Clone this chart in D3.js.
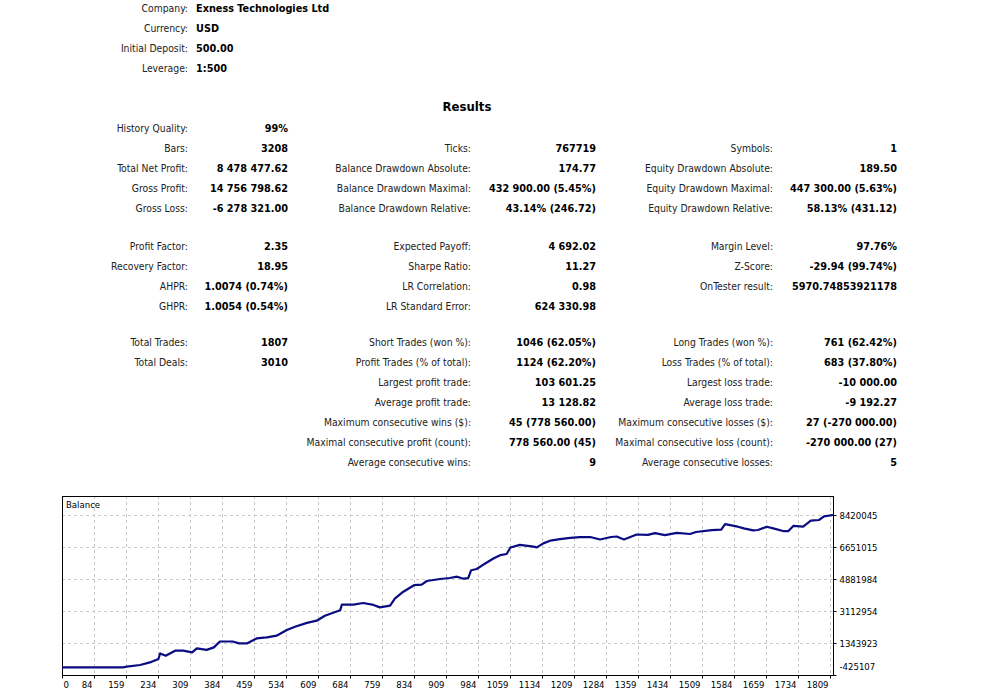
<!DOCTYPE html>
<html>
<head>
<meta charset="utf-8">
<script src="https://cdn.jsdelivr.net/npm/d3@7"></script>
<style>
  body { margin: 0; background: #fff; }
  svg { display: block; }
  .lbl { font-family: "DejaVu Sans Condensed", "Liberation Sans", sans-serif; font-stretch: condensed; font-size: 10.3px; fill: #222; }
  .val { font-family: "DejaVu Sans Condensed", "Liberation Sans", sans-serif; font-stretch: condensed; font-size: 10.8px; font-weight: bold; fill: #000; }
  .axis text { font-family: "DejaVu Sans Condensed", "Liberation Sans", sans-serif; font-stretch: condensed; font-size: 9.5px; fill: #000; }
</style>
</head>
<body>
<div id="chart"></div>
<script>
// header block
let headerLabels = ["Company:", "Currency:", "Initial Deposit:", "Leverage:"]
let headerValues = ["Exness Technologies Ltd", "USD", "500.00", "1:500"]

// results table, one entry per row slot (null = empty)
let col1 = [
  ["History Quality:", "99%"], ["Bars:", "3208"], ["Total Net Profit:", "8 478 477.62"],
  ["Gross Profit:", "14 756 798.62"], ["Gross Loss:", "-6 278 321.00"],
  ["Profit Factor:", "2.35"], ["Recovery Factor:", "18.95"], ["AHPR:", "1.0074 (0.74%)"], ["GHPR:", "1.0054 (0.54%)"],
  ["Total Trades:", "1807"], ["Total Deals:", "3010"], null, null, null, null, null
]
let col2 = [
  null, ["Ticks:", "767719"], ["Balance Drawdown Absolute:", "174.77"],
  ["Balance Drawdown Maximal:", "432 900.00 (5.45%)"], ["Balance Drawdown Relative:", "43.14% (246.72)"],
  ["Expected Payoff:", "4 692.02"], ["Sharpe Ratio:", "11.27"], ["LR Correlation:", "0.98"], ["LR Standard Error:", "624 330.98"],
  ["Short Trades (won %):", "1046 (62.05%)"], ["Profit Trades (% of total):", "1124 (62.20%)"],
  ["Largest profit trade:", "103 601.25"], ["Average profit trade:", "13 128.82"],
  ["Maximum consecutive wins ($):", "45 (778 560.00)"], ["Maximal consecutive profit (count):", "778 560.00 (45)"],
  ["Average consecutive wins:", "9"]
]
let col3 = [
  null, ["Symbols:", "1"], ["Equity Drawdown Absolute:", "189.50"],
  ["Equity Drawdown Maximal:", "447 300.00 (5.63%)"], ["Equity Drawdown Relative:", "58.13% (431.12)"],
  ["Margin Level:", "97.76%"], ["Z-Score:", "-29.94 (99.74%)"], ["OnTester result:", "5970.74853921178"], null,
  ["Long Trades (won %):", "761 (62.42%)"], ["Loss Trades (% of total):", "683 (37.80%)"],
  ["Largest loss trade:", "-10 000.00"], ["Average loss trade:", "-9 192.27"],
  ["Maximum consecutive losses ($):", "27 (-270 000.00)"], ["Maximal consecutive loss (count):", "-270 000.00 (27)"],
  ["Average consecutive losses:", "5"]
]

// balance curve
let tradeNo = [0, 152, 161, 192, 215, 235, 239, 252, 274, 293, 314, 325, 348, 365, 379, 409, 424, 442, 465, 489,
  512, 536, 555, 583, 606, 625, 661, 665, 692, 715, 739, 754, 778, 789, 809, 834, 852, 864, 895, 918,
  935, 950, 961, 968, 981, 1000, 1021, 1036, 1051, 1060, 1082, 1114, 1122, 1137, 1153, 1176, 1200, 1223, 1247, 1270,
  1296, 1309, 1326, 1356, 1382, 1399, 1422, 1450, 1481, 1495, 1532, 1554, 1563, 1593, 1607, 1629, 1640, 1661, 1676, 1701,
  1711, 1723, 1746, 1764, 1783, 1795, 1816]
let balance = [500, 500, 34000, 128000, 271000, 459000, 769000, 642000, 918000, 918000, 824000, 1045000, 962000, 1101000, 1427000, 1427000, 1322000, 1322000, 1598000, 1653000,
  1747000, 2063000, 2245000, 2455000, 2577000, 2853000, 3157000, 3461000, 3461000, 3555000, 3450000, 3312000, 3406000, 3793000, 4180000, 4539000, 4567000, 4771000, 4882000, 4937000,
  5009000, 4899000, 4926000, 5368000, 5435000, 5728000, 6032000, 6198000, 6264000, 6623000, 6767000, 6668000, 6629000, 6850000, 6999000, 7082000, 7154000, 7193000, 7204000, 7066000,
  7204000, 7231000, 7066000, 7342000, 7320000, 7414000, 7303000, 7430000, 7370000, 7480000, 7580000, 7607000, 7911000, 7773000, 7679000, 7569000, 7591000, 7773000, 7679000, 7524000,
  7524000, 7817000, 7773000, 8105000, 8144000, 8343000, 8420000]

let xTicks = [0, 84, 159, 234, 309, 384, 459, 534, 609, 684, 759, 834, 909, 984, 1059, 1134, 1209, 1284, 1359, 1434, 1509, 1584, 1659, 1734, 1809]
let yTicks = [-425107, 1343923, 3112954, 4881984, 6651015, 8420045]

let width = 990
let height = 694

let svg = d3.select("#chart")
    .append("svg")
    .attr("width", width)
    .attr("height", height)

// header
headerLabels.forEach((t, i) => {
    let yy = 12 + i * 20
    svg.append("text").attr("class", "lbl").attr("x", 188).attr("y", yy)
        .attr("text-anchor", "end").text(t)
    svg.append("text").attr("class", "val").attr("x", 196).attr("y", yy).text(headerValues[i])
})

svg.append("text")
    .attr("x", 467).attr("y", 111)
    .attr("text-anchor", "middle")
    .style("font-family", "'DejaVu Sans Condensed', 'Liberation Sans', sans-serif")
    .style("font-stretch", "condensed")
    .style("font-size", "13px")
    .style("font-weight", "bold")
    .text("Results")

// slot -> baseline y (three blocks separated by a blank gap)
function slotY(i) {
    if (i < 5) return 132 + i * 20
    if (i < 9) return 250 + (i - 5) * 20
    return 346 + (i - 9) * 20
}

let columns = [
    {rows: col1, labelX: 188, valueX: 288},
    {rows: col2, labelX: 471, valueX: 596},
    {rows: col3, labelX: 773, valueX: 897}
]

columns.forEach(col => {
    col.rows.forEach((r, i) => {
        if (!r) return
        svg.append("text").attr("class", "lbl")
            .attr("x", col.labelX).attr("y", slotY(i))
            .attr("text-anchor", "end").text(r[0])
        svg.append("text").attr("class", "val")
            .attr("x", col.valueX).attr("y", slotY(i))
            .attr("text-anchor", "end").text(r[1])
    })
})

// balance chart
let plotLeft = 62, plotRight = 833, plotTop = 496, plotBottom = 675

let x = d3.scaleLinear()
    .domain([0, 84, 1816])
    .range([plotLeft, 94, plotRight])

let y = d3.scaleLinear()
    .domain([-425107, 9470000])
    .range([plotBottom, plotTop])

let data = tradeNo.map((t, i) => ({trade: t, bal: balance[i]}))

let grid = svg.append("g")
    .attr("stroke", "#c8c8c8")
    .attr("stroke-dasharray", "3,3")
    .attr("shape-rendering", "crispEdges")

grid.selectAll(".vg")
    .data(xTicks.slice(1))
    .enter()
    .append("line")
    .attr("x1", d => Math.round(x(d)) + 0.5)
    .attr("x2", d => Math.round(x(d)) + 0.5)
    .attr("y1", plotTop)
    .attr("y2", plotBottom)

grid.selectAll(".hg")
    .data(yTicks.slice(1))
    .enter()
    .append("line")
    .attr("x1", plotLeft)
    .attr("x2", plotRight)
    .attr("y1", d => Math.round(y(d)) + 0.5)
    .attr("y2", d => Math.round(y(d)) + 0.5)

svg.append("rect")
    .attr("x", plotLeft + 0.5).attr("y", plotTop + 0.5)
    .attr("width", plotRight - plotLeft).attr("height", plotBottom - plotTop)
    .attr("fill", "none")
    .attr("stroke", "#000")
    .attr("shape-rendering", "crispEdges")

svg.append("text")
    .attr("x", 66).attr("y", 508)
    .style("font-family", "'DejaVu Sans Condensed', 'Liberation Sans', sans-serif")
    .style("font-stretch", "condensed")
    .style("font-size", "9.5px")
    .text("Balance")

let xAxis = svg.append("g")
    .attr("class", "axis")
    .attr("transform", "translate(0," + (plotBottom + 0.5) + ")")
    .call(d3.axisBottom(x).tickValues(xTicks).tickSize(3).tickFormat(d => String(d)))

xAxis.select(".domain").remove()
xAxis.selectAll("text")
    .attr("text-anchor", (d, i) => i === 0 ? "start" : "end")
    .attr("dx", (d, i) => i === 0 ? 1 : -2)

let yAxis = svg.append("g")
    .attr("class", "axis")
    .attr("transform", "translate(" + (plotRight + 0.5) + ",0)")
    .call(d3.axisRight(y).tickValues(yTicks).tickSize(3).tickFormat(d => String(d)))

yAxis.select(".domain").remove()
yAxis.selectAll("text")
    .filter(d => d === yTicks[0])
    .attr("dy", "-0.55em")

svg.append("path")
    .datum(data)
    .attr("d", d3.line()
        .x(d => x(d.trade))
        .y(d => y(d.bal)))
    .attr("fill", "none")
    .attr("stroke", "#0b0b82")
    .attr("stroke-width", 2.2)
    .attr("stroke-linejoin", "round")
</script>
</body>
</html>
